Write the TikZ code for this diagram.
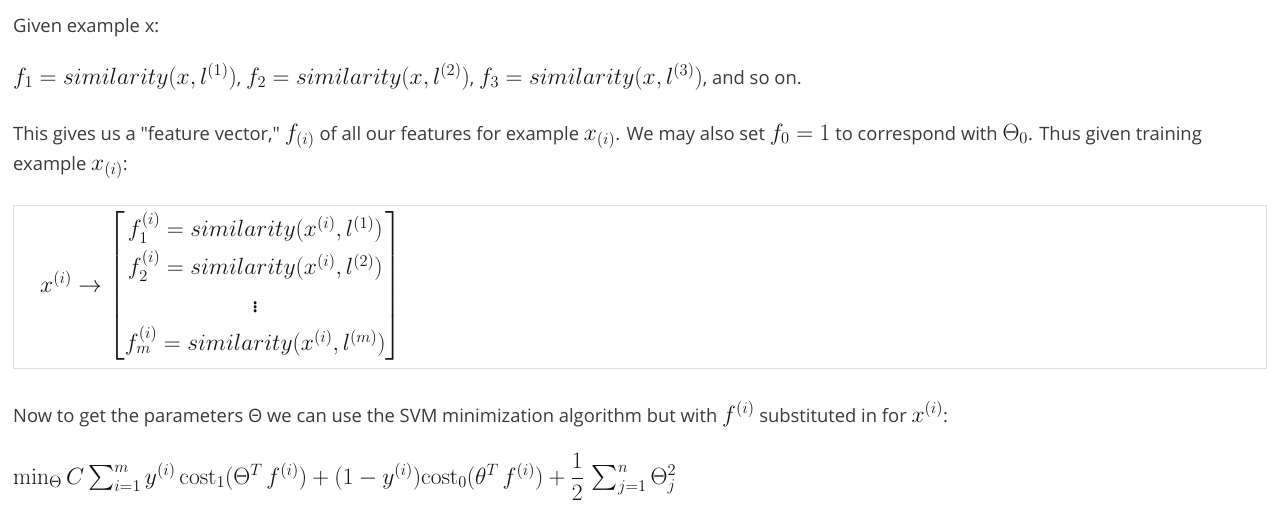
\RequirePackage{fix-cm}
\documentclass[tikz,border=0pt]{standalone}
\usepackage{amsmath}
\usepackage[no-math]{fontspec}
\setmainfont{Open Sans}[Ligatures=TeXOff]
\usepackage{xcolor}
\definecolor{txtgray}{rgb}{0.23,0.23,0.23}
\definecolor{mathgray}{rgb}{0.08,0.08,0.08}
\definecolor{boxgray}{rgb}{0.88,0.88,0.88}
\newcommand\txtsize{\fontsize{18.4}{22}\selectfont}
\newcommand\mth[1]{{\color{mathgray}\fontsize{23.5}{28}\selectfont$#1$}}
\tikzset{
    textline/.style = {anchor=base west, inner sep=0pt, text=txtgray, font=\txtsize},
    mathbox/.style = {draw=boxgray, line width=1pt}
}

\begin{document}
\begin{tikzpicture}[x=1pt,y=-1pt]
\useasboundingbox [fill=white] (0,0) rectangle (1281,517);
\node[textline] (given) at (13,32) {Given example x:};
\node[textline] (feat) at (13,84) {\mth{f_1 = similarity(x,l^{(1)})}, \mth{f_2 = similarity(x,l^{(2)})}, \mth{f_3 = similarity(x,l^{(3)})}, and so on.};
\node[textline] (vecA) at (13,140) {This gives us a "feature vector," \mth{f_{(i)}} of all our features for example \mth{x_{(i)}}. We may also set \mth{f_0 = 1} to correspond with \mth{\Theta_0}. Thus given training};
\node[textline] (vecB) at (13,170) {example \mth{x_{(i)}}:};
\draw[mathbox] (13,205) rectangle (1266,368);
\node[textline] (map) at (40,292) {\renewcommand\arraystretch{1.36}\mth{x^{(i)} \rightarrow \begin{bmatrix} f_1^{(i)} = similarity(x^{(i)},l^{(1)}) \\ f_2^{(i)} = similarity(x^{(i)},l^{(2)}) \\ \vdots \\ f_m^{(i)} = similarity(x^{(i)},l^{(m)}) \end{bmatrix}}};
\node[textline] (param) at (13,422) {Now to get the parameters Θ we can use the SVM minimization algorithm but with \mth{f^{(i)}} substituted in for \mth{x^{(i)}}:};
\node[textline] (cost) at (13,484) {\mth{\min_\Theta C\sum_{i=1}^m y^{(i)}\,\mathrm{cost}_1(\Theta^T\, f^{(i)}) + (1-y^{(i)})\mathrm{cost}_0(\theta^T\, f^{(i)}) + \dfrac{1}{2}\,\sum_{j=1}^n \Theta_j^2}};
\end{tikzpicture}
\end{document}
